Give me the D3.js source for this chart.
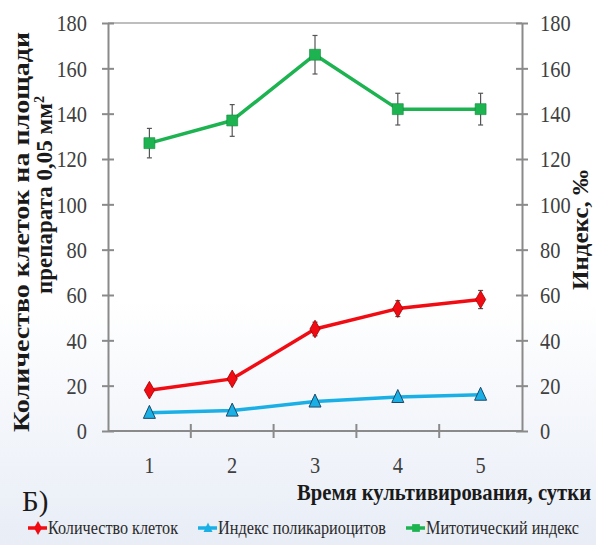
<!DOCTYPE html>
<html>
<head>
<meta charset="utf-8">
<script src="https://cdn.jsdelivr.net/npm/d3@7"></script>
<style>
  html, body { margin: 0; padding: 0; }
  body { width: 596px; height: 545px; overflow: hidden; }
  svg { display: block; }
  text { font-family: "Liberation Serif"; }
</style>
</head>
<body>
<script>
// Days of cultivation
const days = [1, 2, 3, 4, 5];
// Cell count per 0.05 mm² (left axis)
const cellCount = [18, 23, 45, 54, 58];
const cellCountErr = [2, 2, 3, 3.5, 4];
// Polykaryocyte index, ‰ (right axis)
const polyIndex = [8, 9, 13, 15, 16];
const polyIndexErr = [1, 1, 1, 1, 1];
// Mitotic index, ‰ (right axis)
const mitoticIndex = [127, 137, 166, 142, 142];
const mitoticIndexErr = [6.5, 7, 8.5, 7, 7];
// Axis ticks
const yTicks = [0, 20, 40, 60, 80, 100, 120, 140, 160, 180];

const W = 596, H = 545;
const margin = { left: 108, right: 74, top: 23, bottom: 114 };

const svg = d3.select("body").append("svg")
  .attr("width", W).attr("height", H);

// soft bluish page background
const defs = svg.append("defs");
const grad = defs.append("linearGradient")
  .attr("id", "bg").attr("x1", 0).attr("y1", 0).attr("x2", 0).attr("y2", 1);
grad.append("stop").attr("offset", "0%").attr("stop-color", "#ffffff");
grad.append("stop").attr("offset", "55%").attr("stop-color", "#ffffff");
grad.append("stop").attr("offset", "100%").attr("stop-color", "#e8edf6");
svg.append("rect").attr("width", W).attr("height", H).attr("fill", "url(#bg)");

const x = d3.scaleBand()
  .domain(days)
  .range([margin.left, W - margin.right])
  .paddingInner(0).paddingOuter(0);
const yL = d3.scaleLinear().domain([0, 180]).range([H - margin.bottom, margin.top]);
const yR = d3.scaleLinear().domain([0, 180]).range([H - margin.bottom, margin.top]);

const axisColor = "#8a8a8a";
const serif = "Liberation Serif";
const xLeft = margin.left, xRight = W - margin.right;
const yBottom = yL(0), yTop = yL(180);

// top border line
svg.append("line")
  .attr("x1", xLeft).attr("x2", xRight)
  .attr("y1", yTop).attr("y2", yTop)
  .attr("stroke", "#a8a8a8").attr("stroke-width", 1.5);

function styleAxis(g) {
  g.attr("font-family", null).attr("font-size", null);
  g.select(".domain").attr("stroke", axisColor).attr("stroke-width", 2);
  g.selectAll(".tick line").attr("stroke", axisColor).attr("stroke-width", 2);
  g.selectAll("text")
    .attr("fill", "#404040")
    .attr("font-family", serif)
    .attr("font-size", 24);
}

// left axis
const gL = svg.append("g").attr("transform", `translate(${xLeft},0)`)
  .call(d3.axisLeft(yL).tickValues(yTicks).tickSize(6).tickPadding(15).tickSizeOuter(0));
styleAxis(gL);
gL.selectAll(".tick line").attr("x1", 6).attr("x2", -6);
gL.selectAll(".tick text").each(function(d) {
  d3.select(this).attr("textLength", String(d).length * 10.2).attr("lengthAdjust", "spacingAndGlyphs");
});

// right axis
const gR = svg.append("g").attr("transform", `translate(${xRight},0)`)
  .call(d3.axisRight(yR).tickValues(yTicks).tickSize(6).tickPadding(12).tickSizeOuter(0));
styleAxis(gR);
gR.selectAll(".tick line").attr("x1", -6).attr("x2", 6);
gR.selectAll(".tick text").each(function(d) {
  d3.select(this).attr("textLength", String(d).length * 10.2).attr("lengthAdjust", "spacingAndGlyphs");
});

// bottom axis: ticks between categories, labels under category centres
const gB = svg.append("g").attr("transform", `translate(0,${yBottom})`);
gB.append("line").attr("x1", xLeft).attr("x2", xRight)
  .attr("stroke", axisColor).attr("stroke-width", 2);
const bounds = days.slice(1).map(d => x(d));
gB.selectAll("line.tk").data(bounds).join("line").attr("class", "tk")
  .attr("x1", d => d).attr("x2", d => d).attr("y1", -7).attr("y2", 7)
  .attr("stroke", axisColor).attr("stroke-width", 2);
gB.selectAll("text").data(days).join("text")
  .attr("x", d => x(d) + x.bandwidth() / 2)
  .attr("y", 42)
  .attr("text-anchor", "middle")
  .attr("fill", "#404040")
  .attr("font-family", serif).attr("font-size", 24)
  .attr("textLength", 10.2).attr("lengthAdjust", "spacingAndGlyphs")
  .text(d => d);

const cx = d => x(d) + x.bandwidth() / 2;

function drawSeries(values, errs, color, scale, marker) {
  const pts = days.map((d, i) => ({ d, v: values[i], e: errs[i] }));
  const g = svg.append("g");
  // error bars
  const eb = g.selectAll("g.eb").data(pts).join("g").attr("class", "eb");
  eb.append("line")
    .attr("x1", p => cx(p.d)).attr("x2", p => cx(p.d))
    .attr("y1", p => scale(p.v - p.e)).attr("y2", p => scale(p.v + p.e))
    .attr("stroke", "#555").attr("stroke-width", 1.2);
  [1, -1].forEach(s => {
    eb.append("line")
      .attr("x1", p => cx(p.d) - 2.5).attr("x2", p => cx(p.d) + 2.5)
      .attr("y1", p => scale(p.v + s * p.e)).attr("y2", p => scale(p.v + s * p.e))
      .attr("stroke", "#555").attr("stroke-width", 1.2);
  });
  g.append("path")
    .datum(pts)
    .attr("fill", "none").attr("stroke", color).attr("stroke-width", 3.5)
    .attr("stroke-linejoin", "round")
    .attr("d", d3.line().x(p => cx(p.d)).y(p => scale(p.v)));
  g.selectAll("path.m").data(pts).join("path").attr("class", "m")
    .attr("transform", p => `translate(${cx(p.d)},${scale(p.v)})`)
    .attr("d", marker.path)
    .attr("fill", color)
    .attr("stroke", marker.stroke).attr("stroke-width", marker.sw);
}

const diamondPath = d3.symbol(d3.symbolDiamond, 90)();
const trianglePath = "M0,-7.5L6,5.5L-6,5.5Z";
const squarePath = d3.symbol(d3.symbolSquare, 120)();

const red = "#f00c12", blue = "#1ab0e6", green = "#1db350";

drawSeries(mitoticIndex, mitoticIndexErr, green, yR, { path: squarePath, stroke: "#138a3c", sw: 0.6 });
drawSeries(cellCount, cellCountErr, red, yL, { path: diamondPath, stroke: "#a00000", sw: 0.8 });
drawSeries(polyIndex, polyIndexErr, blue, yR, { path: trianglePath, stroke: "#1a4a6a", sw: 1 });

// axis titles
svg.append("text")
  .attr("transform", "translate(29,232) rotate(-90)")
  .attr("text-anchor", "middle")
  .attr("font-family", serif).attr("font-weight", "bold").attr("font-size", 23)
  .attr("fill", "#1a1a1a")
  .attr("textLength", 400).attr("lengthAdjust", "spacingAndGlyphs")
  .text("Количество клеток на площади");
const l2 = svg.append("text")
  .attr("transform", "translate(52,195) rotate(-90)")
  .attr("text-anchor", "middle")
  .attr("font-family", serif).attr("font-weight", "bold").attr("font-size", 23)
  .attr("fill", "#1a1a1a");
l2.append("tspan").text("препарата 0,05 мм");
l2.append("tspan").attr("dy", -8).attr("font-size", 14).text("2");

svg.append("text")
  .attr("transform", "translate(588,230) rotate(-90)")
  .attr("text-anchor", "middle")
  .attr("font-family", serif).attr("font-weight", "bold").attr("font-size", 23)
  .attr("fill", "#1a1a1a")
  .attr("textLength", 120).attr("lengthAdjust", "spacingAndGlyphs")
  .text("Индекс, ‰");

// x-axis title, horizontally condensed
svg.append("text")
  .attr("transform", "translate(297,500) scale(0.86,1)")
  .attr("font-family", serif).attr("font-weight", "bold").attr("font-size", 24)
  .attr("fill", "#1a1a1a")
  .text("Время культивирования, сутки");

svg.append("text")
  .attr("x", 22).attr("y", 511)
  .attr("font-family", "Liberation Sans").attr("font-size", 29)
  .attr("fill", "#1a1a1a")
  .text("Б)");

// legend
const legendItems = [
  { name: "Количество клеток", color: red, path: d3.symbol(d3.symbolDiamond, 55)(), x: 28, w: 130 },
  { name: "Индекс поликариоцитов", color: blue, path: "M0,-5.5L4.5,4L-4.5,4Z", x: 198, w: 168 },
  { name: "Митотический индекс", color: green, path: d3.symbol(d3.symbolSquare, 60)(), x: 406, w: 153 }
];
const lg = svg.selectAll("g.lg").data(legendItems).join("g").attr("class", "lg")
  .attr("transform", d => `translate(${d.x},528)`);
lg.append("line").attr("x1", 0).attr("x2", 19).attr("stroke", d => d.color).attr("stroke-width", 3.5);
lg.append("path").attr("d", d => d.path).attr("transform", "translate(10,0)").attr("fill", d => d.color);
lg.append("text")
  .attr("x", 20).attr("y", 6)
  .attr("font-family", serif).attr("font-size", 18)
  .attr("fill", "#2a2a2a")
  .attr("textLength", d => d.w).attr("lengthAdjust", "spacingAndGlyphs")
  .text(d => d.name);
</script>
</body>
</html>
